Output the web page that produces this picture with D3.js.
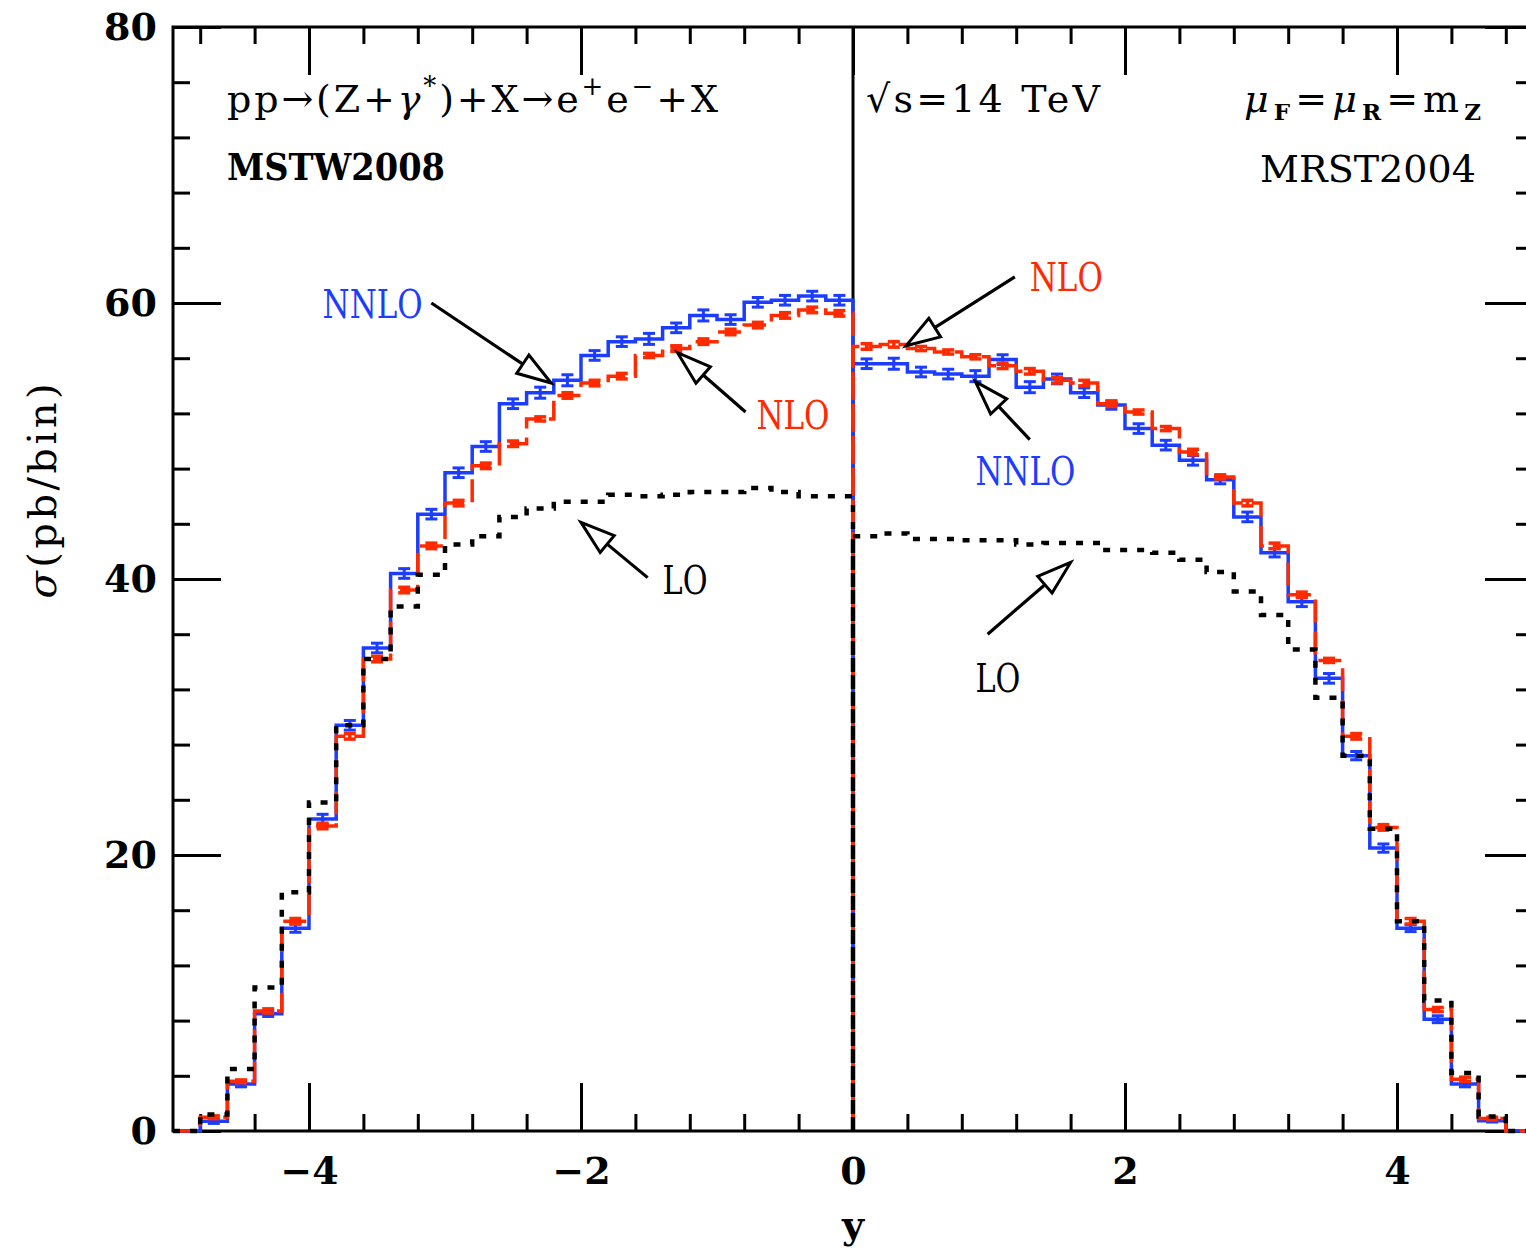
<!DOCTYPE html>
<html><head><meta charset="utf-8">
<script src="https://cdn.jsdelivr.net/npm/d3@7"></script>
<style>body{margin:0;background:#fff}svg{display:block}</style>
</head><body>
<svg id="c" width="1526" height="1251"></svg>
<script>
// ---------- data ----------
const binWidth = 0.2;
const leftBins  = [-5.0,-4.8,-4.6,-4.4,-4.2,-4.0,-3.8,-3.6,-3.4,-3.2,-3.0,-2.8,-2.6,-2.4,-2.2,-2.0,-1.8,-1.6,-1.4,-1.2,-1.0,-0.8,-0.6,-0.4,-0.2];
const rightBins = [0.0,0.2,0.4,0.6,0.8,1.0,1.2,1.4,1.6,1.8,2.0,2.2,2.4,2.6,2.8,3.0,3.2,3.4,3.6,3.8,4.0,4.2,4.4,4.6,4.8];

// MSTW2008 (left half)
const nnloLeft = [0,0.7,3.4,8.5,14.7,22.6,29.4,35.0,40.4,44.7,47.7,49.6,52.7,53.5,54.4,56.2,57.2,57.4,58.2,59.1,58.8,60.05,60.2,60.5,60.2];
const nnloLeftErr = [0,0.15,0.2,0.2,0.3,0.35,0.35,0.35,0.35,0.35,0.35,0.35,0.35,0.4,0.4,0.35,0.35,0.4,0.35,0.4,0.35,0.35,0.35,0.35,0.35];
const nloLeft  = [0,1.0,3.6,8.7,15.2,22.1,28.6,34.2,39.2,42.4,45.5,48.2,49.8,51.6,53.3,54.2,54.7,56.2,56.7,57.2,57.9,58.4,59.1,59.5,59.25];
const nloLeftErr = [0,0.1,0.1,0.15,0.2,0.2,0.2,0.2,0.2,0.2,0.2,0.2,0.2,0.15,0.2,0.2,0.2,0.15,0.2,0.2,0.2,0.2,0.2,0.2,0.2];
const loLeft   = [0,1.2,4.5,10.4,17.3,23.8,29.4,34.2,38.0,40.3,42.5,43.1,44.5,45.1,45.6,45.6,46.1,46.0,46.1,46.3,46.3,46.6,46.3,46.0,46.0];

// MRST2004 (right half)
const nnloRight = [55.6,55.6,55.0,54.85,54.7,55.9,53.9,54.5,53.5,52.6,50.9,49.7,48.6,47.2,44.5,41.9,38.35,32.8,27.2,20.5,14.7,8.1,3.4,0.75,0];
const nnloRightErr = [0.35,0.4,0.35,0.35,0.4,0.35,0.4,0.35,0.35,0.3,0.35,0.35,0.35,0.3,0.35,0.3,0.35,0.35,0.3,0.3,0.25,0.25,0.2,0.1,0];
const nloRight  = [56.85,57.0,56.7,56.45,56.1,55.45,55.05,54.4,54.2,52.7,52.1,50.9,49.2,47.4,45.5,42.4,38.85,34.1,28.6,22.0,15.2,8.8,3.75,0.9,0];
const nloRightErr = [0.2,0.2,0.15,0.15,0.15,0.2,0.2,0.2,0.2,0.2,0.15,0.15,0.2,0.15,0.2,0.2,0.2,0.15,0.2,0.2,0.2,0.15,0.15,0.1,0];
const loRight   = [43.1,43.3,42.9,42.9,42.8,42.8,42.5,42.6,42.6,42.1,42.1,41.9,41.4,40.5,39.1,37.4,34.9,31.4,27.2,21.9,15.2,9.45,4.2,1.05,0];

// axis ticks
const xMajorTicks = [-4,-2,0,2,4];
const xMinorTicks = [-4.8,-4.4,-3.6,-3.2,-2.8,-2.4,-1.6,-1.2,-0.8,-0.4,0.4,0.8,1.2,1.6,2.4,2.8,3.2,3.6,4.4,4.8];
const yMajorTicks = [0,20,40,60,80];
const yMinorTicks = [4,8,12,16,24,28,32,36,44,48,52,56,64,68,72,76];

// annotations: label, colour, label position (data), arrow tail, arrow tip (data)
const annotations = [
  {text:"NNLO", color:"blue", lx:-3.90, ly:59.9, tail:[-3.10,60.0], tip:[-2.22,54.2]},
  {text:"NLO",  color:"red",  lx:-0.71, ly:51.9, tail:[-0.79,52.1], tip:[-1.29,56.4]},
  {text:"LO",   color:"black",lx:-1.40, ly:39.9, tail:[-1.51,40.1], tip:[-2.00,44.1]},
  {text:"NLO",  color:"red",  lx:1.30,  ly:61.9, tail:[1.19,61.9],  tip:[0.39,56.9]},
  {text:"NNLO", color:"blue", lx:0.90,  ly:47.8, tail:[1.30,50.1],  tip:[0.90,54.3]},
  {text:"LO",   color:"black",lx:0.90,  ly:32.8, tail:[0.99,36.0],  tip:[1.60,41.2]}
];

// ---------- drawing ----------
const BLUE = "#1c3cff", RED = "#ff2a00";
const colorOf = {blue:BLUE, red:RED, black:"#000"};
const FONT = "'DejaVu Serif', serif";

const svg = d3.select("#c");
const x = d3.scaleLinear().domain([-5,5]).range([173,1533]);
const y = d3.scaleLinear().domain([0,80]).range([1131,27]);

svg.append("rect").attr("width",1526).attr("height",1251).attr("fill","#fff");

// frame
svg.append("rect").attr("x",x(-5)).attr("y",y(80)).attr("width",x(5)-x(-5)).attr("height",y(0)-y(80))
  .attr("fill","none").attr("stroke","#000").attr("stroke-width",3);

function styleAxis(g){
  g.select(".domain").remove();
  g.selectAll(".tick line").attr("stroke","#000").attr("stroke-width",3);
  g.selectAll(".tick text").attr("font-family",FONT).attr("font-weight","bold").attr("font-size",38).attr("fill","#000");
}
const fmt = d => d < 0 ? "\u2212" + Math.abs(d) : String(d);

svg.append("g").attr("transform",`translate(0,${y(0)})`)
  .call(d3.axisBottom(x).tickValues(xMinorTicks).tickSize(-17).tickFormat("")).call(styleAxis);
svg.append("g").attr("transform",`translate(0,${y(0)})`)
  .call(d3.axisBottom(x).tickValues(xMajorTicks).tickSize(-48).tickPadding(26).tickFormat(fmt)).call(styleAxis);
svg.append("g").attr("transform",`translate(0,${y(80)})`)
  .call(d3.axisTop(x).tickValues(xMinorTicks).tickSize(-17).tickFormat("")).call(styleAxis);
svg.append("g").attr("transform",`translate(0,${y(80)})`)
  .call(d3.axisTop(x).tickValues(xMajorTicks).tickSize(-48).tickFormat("")).call(styleAxis);
svg.append("g").attr("transform",`translate(${x(-5)},0)`)
  .call(d3.axisLeft(y).tickValues(yMinorTicks).tickSize(-17).tickFormat("")).call(styleAxis);
svg.append("g").attr("transform",`translate(${x(-5)},0)`)
  .call(d3.axisLeft(y).tickValues(yMajorTicks).tickSize(-48).tickPadding(16).tickFormat(fmt)).call(styleAxis);
svg.append("g").attr("transform",`translate(${x(5)},0)`)
  .call(d3.axisRight(y).tickValues(yMinorTicks).tickSize(-17).tickFormat("")).call(styleAxis);
svg.append("g").attr("transform",`translate(${x(5)},0)`)
  .call(d3.axisRight(y).tickValues(yMajorTicks).tickSize(-48).tickFormat("")).call(styleAxis);

// divider at y=0
svg.append("line").attr("x1",x(0)).attr("x2",x(0)).attr("y1",y(0)).attr("y2",y(80))
  .attr("stroke","#000").attr("stroke-width",3);

// histogram step path
function stepPts(bins, vals){
  const pts = [[bins[0],0]];
  bins.forEach((b,i)=>{ pts.push([b,vals[i]]); pts.push([b+binWidth,vals[i]]); });
  pts.push([bins[bins.length-1]+binWidth,0]);
  return pts;
}
const line = d3.line().x(d=>x(d[0])).y(d=>y(d[1]));

function hist(bins, vals, color, width, dash){
  svg.append("path").attr("d",line(stepPts(bins,vals))).attr("fill","none")
    .attr("stroke",color).attr("stroke-width",width).attr("stroke-dasharray",dash||null)
    .attr("stroke-linejoin","miter");
}
function errs(bins, vals, e, color, w){
  const g = svg.append("g").attr("stroke",color).attr("stroke-width",w);
  bins.forEach((b,i)=>{
    if (!e[i]) return;
    const cx = x(b+binWidth/2), y1 = y(vals[i]-e[i]), y2 = y(vals[i]+e[i]);
    g.append("line").attr("x1",cx).attr("x2",cx).attr("y1",y1).attr("y2",y2);
    g.append("line").attr("x1",cx-6).attr("x2",cx+6).attr("y1",y1).attr("y2",y1);
    g.append("line").attr("x1",cx-6).attr("x2",cx+6).attr("y1",y2).attr("y2",y2);
  });
}

// NNLO (blue solid)
hist(leftBins, nnloLeft, BLUE, 3.5);
hist(rightBins, nnloRight, BLUE, 3.5);
errs(leftBins, nnloLeft, nnloLeftErr, BLUE, 3);
errs(rightBins, nnloRight, nnloRightErr, BLUE, 3);
// NLO (red dashed)
hist(leftBins, nloLeft, RED, 3.5, "23,9");
hist(rightBins, nloRight, RED, 3.5, "23,9");
errs(leftBins, nloLeft, nloLeftErr, RED, 3.5);
errs(rightBins, nloRight, nloRightErr, RED, 3.5);
// LO (black dotted)
hist(leftBins, loLeft, "#000", 4.5, "7,10");
hist(rightBins, loRight, "#000", 4.5, "7,10");

// annotations
const labelWidth = {NNLO:100, NLO:73, LO:45};
annotations.forEach(a=>{
  const [tx,ty] = [x(a.tip[0]), y(a.tip[1])];
  const [sx,sy] = [x(a.tail[0]), y(a.tail[1])];
  const ang = Math.atan2(ty-sy, tx-sx);
  const L = 34, Wd = 11;
  const bx = tx - L*Math.cos(ang), by = ty - L*Math.sin(ang);
  svg.append("line").attr("x1",sx).attr("y1",sy).attr("x2",bx).attr("y2",by)
    .attr("stroke","#000").attr("stroke-width",3.2);
  const p1 = [bx + Wd*Math.sin(ang), by - Wd*Math.cos(ang)];
  const p2 = [bx - Wd*Math.sin(ang), by + Wd*Math.cos(ang)];
  svg.append("polygon").attr("points",[[tx,ty],p1,p2].map(p=>p.join(",")).join(" "))
    .attr("fill","#fff").attr("stroke","#000").attr("stroke-width",3).attr("stroke-linejoin","miter");
  svg.append("text").attr("x",x(a.lx)).attr("y",y(a.ly)).attr("dy","0.36em")
    .attr("font-family",FONT).attr("font-size",39).attr("fill",colorOf[a.color])
    .attr("textLength",labelWidth[a.text]).attr("lengthAdjust","spacingAndGlyphs").text(a.text);
});

// header texts
const t1 = svg.append("text").attr("x",227).attr("y",112).attr("font-family",FONT).attr("font-size",38).attr("fill","#000")
  .attr("textLength",491).attr("lengthAdjust","spacing");
t1.append("tspan").text("pp\u2192(Z+");
t1.append("tspan").attr("font-style","italic").text("\u03b3");
t1.append("tspan").attr("dy",-17).attr("font-size",26).text("*");
t1.append("tspan").attr("dy",17).text(")+X\u2192e");
t1.append("tspan").attr("dy",-17).attr("font-size",26).text("+");
t1.append("tspan").attr("dy",17).text("e");
t1.append("tspan").attr("dy",-17).attr("font-size",26).text("\u2212");
t1.append("tspan").attr("dy",17).text("+X");

svg.append("text").attr("x",227).attr("y",180).attr("font-family",FONT).attr("font-weight","bold").attr("font-size",38)
  .attr("textLength",218).attr("lengthAdjust","spacingAndGlyphs").text("MSTW2008");
svg.append("text").attr("x",866).attr("y",112).attr("font-family",FONT).attr("font-size",38)
  .attr("textLength",234).attr("lengthAdjust","spacing").text("\u221as=14 TeV");
const t2 = svg.append("text").attr("x",1244).attr("y",112).attr("font-family",FONT).attr("font-size",38)
  .attr("textLength",237).attr("lengthAdjust","spacing");
t2.append("tspan").attr("font-style","italic").text("\u03bc");
t2.append("tspan").attr("dy",8).attr("font-size",23).attr("font-weight","bold").text("F");
t2.append("tspan").attr("dy",-8).text("=");
t2.append("tspan").attr("font-style","italic").text("\u03bc");
t2.append("tspan").attr("dy",8).attr("font-size",23).attr("font-weight","bold").text("R");
t2.append("tspan").attr("dy",-8).text("=m");
t2.append("tspan").attr("dy",8).attr("font-size",23).attr("font-weight","bold").text("Z");
svg.append("text").attr("x",1260).attr("y",182).attr("font-family",FONT).attr("font-size",38)
  .attr("textLength",216).attr("lengthAdjust","spacing").text("MRST2004");

// axis titles
const yt = svg.append("text").attr("transform","translate(56,491) rotate(-90)").attr("text-anchor","middle")
  .attr("font-family",FONT).attr("font-size",40).attr("textLength",215).attr("lengthAdjust","spacing");
yt.append("tspan").attr("font-style","italic").text("\u03c3");
yt.append("tspan").text("(pb/bin)");
svg.append("text").attr("x",x(0)).attr("y",1238).attr("text-anchor","middle").attr("font-family",FONT)
  .attr("font-weight","bold").attr("font-size",38).text("y");
</script>
</body></html>
